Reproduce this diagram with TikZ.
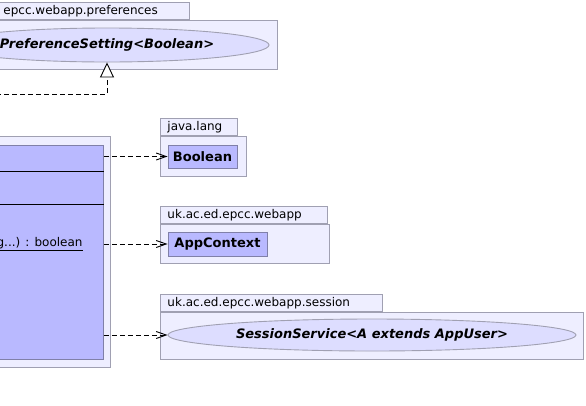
\documentclass[tikz,border=0pt]{standalone}
\usepackage{fontspec}
\setmainfont{DejaVu Sans}
\usetikzlibrary{shapes.geometric,arrows.meta}

\definecolor{pkgfill}{RGB}{238,238,255}
\definecolor{pkgline}{RGB}{160,160,178}
\definecolor{clsfill}{RGB}{185,185,255}
\definecolor{clsline}{RGB}{128,128,168}
\definecolor{ifcfill}{RGB}{221,221,255}

\tikzset{
	pkgtab/.style={draw=pkgline,fill=pkgfill,anchor=south west,inner xsep=7pt,inner ysep=0pt,minimum height=17pt,align=left,font=\fontsize{12}{14}\selectfont},
	pkgbody/.style={draw=pkgline,fill=pkgfill,anchor=north west,inner sep=0pt},
	clsbox/.style={draw=clsline,fill=clsfill,inner sep=0pt,font=\fontsize{13}{15}\selectfont\bfseries},
	ifcbox/.style={ellipse,draw=pkgline,fill=ifcfill,inner sep=0pt,font=\fontsize{13}{15}\selectfont\bfseries\itshape},
	dep/.style={line width=0.9pt,dash pattern=on 5pt off 3pt,-{Straight Barb[length=10pt,width=7pt]}},
	realize/.style={line width=0.9pt,dash pattern=on 5pt off 3pt,-{Triangle[open,fill=white,length=15pt,width=14pt]}}
}

\begin{document}
\begin{tikzpicture}[x=1pt,y=-1pt,line width=0.9pt]
	\useasboundingbox (0,0) rectangle (586,405);

	%PREFERENCES PACKAGE
	\node[pkgtab,text width=179] (preftab) at (-4,20) {epcc.webapp.preferences};
	\node[pkgbody,minimum width=281,minimum height=49] (prefpkg) at (-4,20) {};
	\node[ifcbox,minimum width=324,minimum height=34] (prefset) at (107,45) {PreferenceSetting<Boolean>};

	%LEFT PACKAGE AND CLASS
	\node[pkgbody,minimum width=114,minimum height=231] (mainpkg) at (-4,136) {};
	\node[clsbox,anchor=north west,minimum width=107,minimum height=214] (cls) at (-4,145) {};
	\draw (cls.west |- 0,171) -- (cls.east |- 0,171);
	\draw (cls.west |- 0,204) -- (cls.east |- 0,204);
	\node[anchor=east,inner sep=0pt,font=\fontsize{12}{14}\selectfont] (clsop) at (83,244) {\underline{g...) : boolean}};

	%JAVA.LANG
	\node[pkgtab,text width=63] (langtab) at (160,136) {java.lang};
	\node[pkgbody,minimum width=86,minimum height=40] (langpkg) at (160,136) {};
	\node[clsbox,minimum width=69,minimum height=23] (boolean) at (202.5,156.5) {Boolean};

	%UK.AC.ED.EPCC.WEBAPP
	\node[pkgtab,text width=153] (webtab) at (160,224) {uk.ac.ed.epcc.webapp};
	\node[pkgbody,minimum width=169,minimum height=39] (webpkg) at (160,224) {};
	\node[clsbox,minimum width=99,minimum height=24] (appctx) at (217.5,244) {AppContext};

	%SESSION
	\node[pkgtab,text width=208] (sesstab) at (160,312) {uk.ac.ed.epcc.webapp.session};
	\node[pkgbody,minimum width=423,minimum height=47] (sesspkg) at (160,312) {};
	\node[ifcbox,minimum width=408,minimum height=32] (sessserv) at (372,335) {SessionService<A extends AppUser>};

	%CONNECTORS
	\coordinate (implsrc) at (-4,94);
	\draw[realize] (implsrc) -| (prefset.south);
	\draw[dep] (boolean -| cls.east) -- (boolean.west);
	\draw[dep] (appctx -| cls.east) -- (appctx.west);
	\draw[dep] (sessserv -| cls.east) -- (sessserv.west);
\end{tikzpicture}
\end{document}
